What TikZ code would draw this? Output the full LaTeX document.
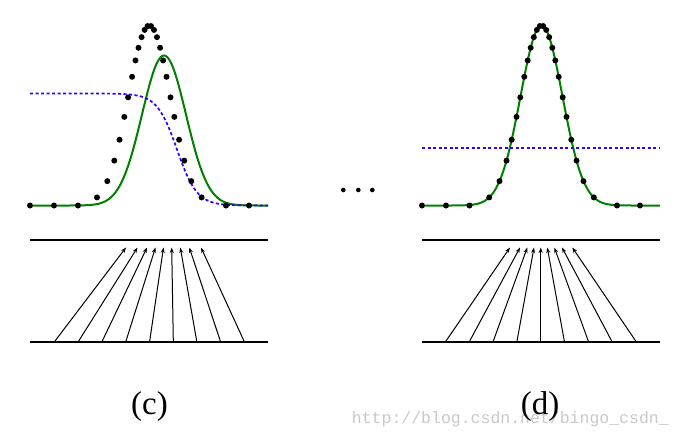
\documentclass[tikz,border=0pt]{standalone}
\usepackage{fontspec}
\setmainfont{Liberation Serif}
\newfontfamily\wmfont{Liberation Mono}
\usetikzlibrary{arrows.meta}
\definecolor{curvegreen}{RGB}{0,128,0}
\definecolor{dashblue}{RGB}{51,0,255}
\definecolor{wmgray}{RGB}{200,200,200}
\begin{document}
\begin{tikzpicture}[x=1pt,y=-1pt,
  baseln/.style={line width=2.2pt},
  greencurve/.style={curvegreen, line width=2pt},
  bluedash/.style={dashblue, line width=1.7pt, dash pattern=on 3.2pt off 2.3pt},
  ray/.style={line width=1pt, -{Stealth[length=5.5pt,width=4pt]}},
  panellabel/.style={font=\fontsize{33}{36}\selectfont, anchor=base, inner sep=0pt},
]
\useasboundingbox (0,0) rectangle (682,439);

% watermark
\node[anchor=base west, text=wmgray, inner sep=0pt,
      font=\wmfont\fontsize{16.5}{18}\selectfont] (wm) at (351.7,423) {http://blog.csdn.net/bingo\_csdn\_};

% ---------- panel (c) ----------
\draw[greencurve] plot[domain=30:268, samples=240, smooth]
  (\x, {205.5-150*exp(-0.5*((\x-164)/22)*((\x-164)/22))});
\draw[bluedash] plot[domain=30:268, samples=240, smooth]
  (\x, {205.5-112/(1+exp((\x-177)/10))});
\foreach \d in {-52.3,-42,-35,-29.8,-25,-21.2,-17.2,-13.8,-10.8,-7.7,-4.7,-1.7,1.7,4.7,7.7,10.8,13.8,17.2,21.2,25,29.8,35,42,52.3}
  \fill ({149.3+\d},{205.5-180*exp(-0.5*((\d)/21)*((\d)/21))}) circle (3pt);
\foreach \p in {30,54,78,226,249}
  \fill (\p,205.5) circle (3pt);

\coordinate (ctopL) at (30,240);  \coordinate (ctopR) at (268,240);
\coordinate (cbotL) at (30,341.7); \coordinate (cbotR) at (268,341.7);
\draw[baseln] (ctopL) -- (ctopR);
\draw[baseln] (cbotL) -- (cbotR);
\foreach \b/\t [count=\i] in {55/126,78.7/137.5,102.3/147,126/155.5,149.7/163.5,173.3/171.7,196.7/180.3,220.3/189.3,244/201}{
  \coordinate (cb\i) at (\b,341);
  \coordinate (ct\i) at (\t,247.5);
  \draw[ray] (cb\i) -- (ct\i);
}
\node[panellabel] (labc) at (149.5,414) {(c)};

% ---------- ellipsis ----------
\foreach \x in {343.3,358.3,372.3}
  \fill (\x,190) circle (2.3pt);

% ---------- panel (d) ----------
\draw[greencurve] plot[domain=422:660, samples=240, smooth]
  (\x, {205.5-180*exp(-0.5*((\x-541.5)/21)*((\x-541.5)/21))});
\coordinate (blL) at (422,148.3); \coordinate (blR) at (660,148.3);
\draw[bluedash] (blL) -- (blR);
\foreach \d in {-52.3,-42,-35,-29.8,-25,-21.2,-17.2,-13.8,-10.8,-7.7,-4.7,-1.7,1.7,4.7,7.7,10.8,13.8,17.2,21.2,25,29.8,35,42,52.3}
  \fill ({541.5+\d},{205.5-180*exp(-0.5*((\d)/21)*((\d)/21))}) circle (3pt);
\foreach \p in {422,446,469.5,617,640}
  \fill (\p,205.5) circle (3pt);

\coordinate (dtopL) at (422,240);  \coordinate (dtopR) at (660,240);
\coordinate (dbotL) at (422,341.7); \coordinate (dbotR) at (660,341.7);
\draw[baseln] (dtopL) -- (dtopR);
\draw[baseln] (dbotL) -- (dbotR);
\foreach \b/\t [count=\i] in {446/510,469.7/520,493.3/527.3,517/534,540.7/540.7,564.3/547.3,588.3/554.3,611.7/562,635.7/572.3}{
  \coordinate (db\i) at (\b,341);
  \coordinate (dt\i) at (\t,247.5);
  \draw[ray] (db\i) -- (dt\i);
}
\node[panellabel] (labd) at (540,414) {(d)};
\end{tikzpicture}
\end{document}
